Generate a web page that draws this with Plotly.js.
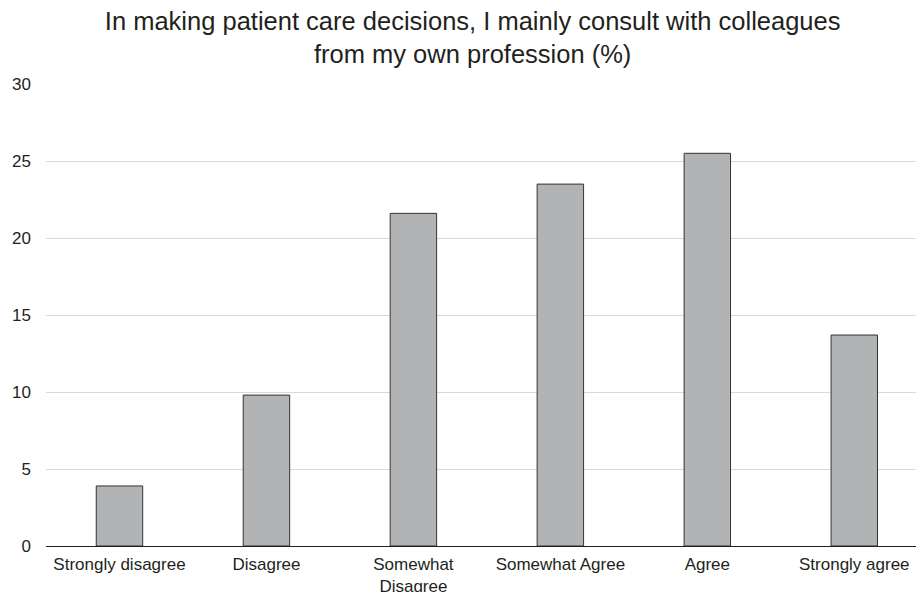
<!DOCTYPE html>
<html><head><meta charset="utf-8">
<script src="https://cdn.plot.ly/plotly-3.0.1.min.js"></script>
<style>html,body{margin:0;padding:0;background:#fff}#chart{width:916px;height:592px}</style>
</head><body><div id="chart"></div>
<script>
const categories = ["Strongly disagree", "Disagree", "Somewhat<br>Disagree", "Somewhat Agree", "Agree", "Strongly agree"];
const values = [3.9, 9.8, 21.6, 23.5, 25.5, 13.7];
const yTicks = [0, 5, 10, 15, 20, 25, 30];
const titleText = "In making patient care decisions, I mainly consult with colleagues<br>from my own profession (%)";

const trace = {
  type: "bar",
  x: categories.map((c, i) => i),
  y: values,
  width: 0.316,
  marker: {color: "#b2b3b5", line: {color: "#333333", width: 1}},
  hoverinfo: "skip"
};

const layout = {
  width: 916, height: 592,
  margin: {l: 46, r: 0, t: 84, b: 46},
  paper_bgcolor: "#ffffff", plot_bgcolor: "#ffffff",
  font: {family: "Liberation Sans, Arial, sans-serif", color: "#231f20", size: 17},
  title: {text: titleText, font: {size: 25.5, color: "#231f20"}, x: 0.516, xanchor: "center", yref: "container", y: 0.949, yanchor: "middle"},
  showlegend: false,
  xaxis: {
    range: [-0.5, 5.42],
    tickvals: categories.map((c, i) => i),
    ticktext: categories,
    showgrid: false, zeroline: false,
    showline: true, linecolor: "#231f20", linewidth: 1.2,
    ticks: "", tickfont: {size: 17}, ticklabelstandoff: 2
  },
  yaxis: {
    range: [0, 30],
    tickvals: yTicks,
    showgrid: true, gridcolor: "#d9d9d9", gridwidth: 1,
    zeroline: false, showline: false, ticks: "",
    tickfont: {size: 17}, ticklabelstandoff: 14
  }
};
Plotly.newPlot("chart", [trace], layout, {displayModeBar: false, staticPlot: true});
</script></body></html>
